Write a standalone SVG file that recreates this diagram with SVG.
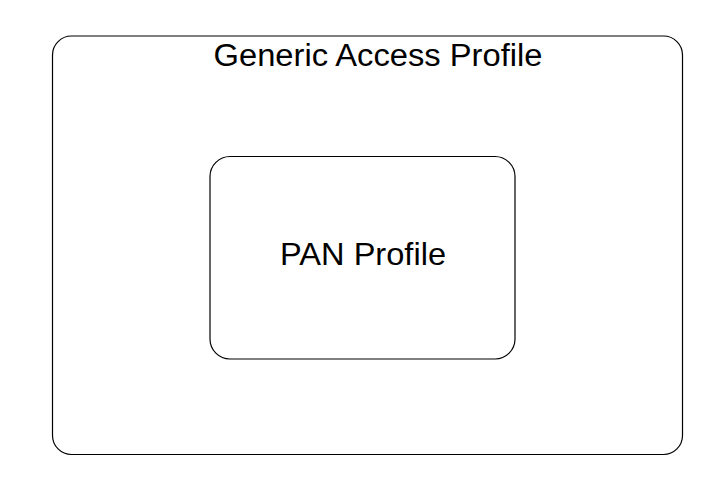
<svg xmlns="http://www.w3.org/2000/svg" width="721" height="494" viewBox="0 0 721 494">
<style>
.box{fill:#fff;stroke:#000;stroke-width:1.2}
.lbl{font-family:"Liberation Sans",Arial,sans-serif;fill:#000;text-anchor:middle}
</style>
<rect width="721" height="494" fill="#fff"/>
<g id="gap">
<rect class="box" x="52.5" y="36" width="630" height="418.5" rx="19" ry="19"/>
<text class="lbl" x="378" y="65.5" font-size="31" textLength="329" lengthAdjust="spacingAndGlyphs">Generic Access Profile</text>
</g>
<g id="pan">
<rect class="box" x="210" y="156.5" width="305" height="202.5" rx="20" ry="20"/>
<text class="lbl" x="363" y="264.5" font-size="31.5" textLength="166" lengthAdjust="spacingAndGlyphs">PAN Profile</text>
</g>
<g id="connectors"/>
</svg>
